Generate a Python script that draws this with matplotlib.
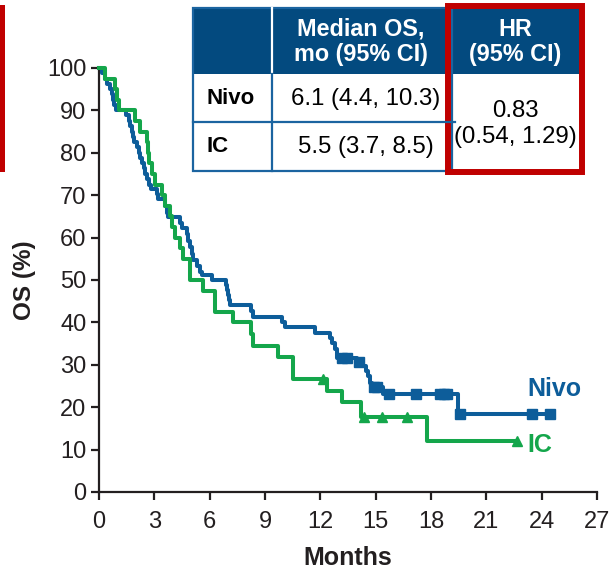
import matplotlib
matplotlib.use("Agg")
import matplotlib.pyplot as plt
import matplotlib.patches as mpatches
import numpy as np

# --- Kaplan-Meier data (months, OS %) ---
nivo_t = [0, 0.15, 0.33, 0.45, 0.6, 0.69, 0.78, 0.84, 0.9, 1.45, 1.6, 1.69, 1.78, 1.87,
          1.92, 2.05, 2.15, 2.24, 2.33, 2.42, 2.51, 2.6, 2.69, 2.8, 3.13, 3.22, 3.58,
          3.67, 3.76, 4.39, 4.48, 4.75, 4.84, 4.93, 5.03, 5.11, 5.3, 5.45, 5.57, 6.15,
          6.9, 6.95, 7.0, 7.05, 7.12, 8.25, 8.35, 9.9, 10.1, 11.71, 12.53, 12.62, 12.8,
          12.89, 13.97, 14.3, 14.5, 14.6, 14.7, 14.8, 15.42, 19.49]
nivo_s = [100, 98.8, 97.5, 96.3, 95.0, 93.8, 92.5, 91.3, 90.0, 88.8, 87.5, 86.3, 85.0, 83.8,
          82.5, 81.3, 80.0, 78.8, 77.5, 76.3, 75.0, 73.8, 72.5, 71.5, 70.3, 69.0, 67.5,
          65.8, 64.8, 63.5, 62.2, 60.8, 59.3, 57.7, 56.2, 54.6, 53.2, 52.0, 51.2, 50.0,
          48.8, 47.6, 46.4, 45.2, 44.1, 42.8, 41.3, 40.2, 38.8, 37.5, 36.3, 35.1, 33.8,
          31.6, 30.7, 29.6, 28.6, 27.3, 25.8, 24.8, 23.2, 18.5]
nivo_end = 24.5
nivo_cens = [13.2, 13.45, 14.1, 14.9, 15.06, 15.7, 17.2, 18.5, 18.7, 18.85, 19.55, 23.47, 24.46]

ic_t = [0, 0.35, 0.87, 0.95, 1.1, 1.95, 2.2, 2.6, 2.65, 2.72, 2.85, 3.05, 3.4, 3.58, 3.85,
        3.94, 4.12, 4.39, 4.57, 4.93, 5.64, 6.3, 7.25, 8.25, 8.35, 9.7, 10.5, 12.35,
        13.2, 14.2, 17.8]
ic_s = [100, 97.5, 95.0, 92.5, 90.0, 87.5, 85.0, 82.5, 80.0, 77.5, 75.0, 72.5, 70.0, 67.5,
        65.0, 62.5, 60.0, 57.5, 55.0, 50.0, 47.5, 42.5, 40.0, 37.2, 34.5, 31.8, 26.7,
        23.8, 21.2, 17.8, 12.0]
ic_end = 22.65
ic_cens = [12.15, 14.35, 15.33, 16.69, 22.65]

x_ticks = [0, 3, 6, 9, 12, 15, 18, 21, 24, 27]
y_ticks = [0, 10, 20, 30, 40, 50, 60, 70, 80, 90, 100]

# Summary table text
tbl_header = ["Median OS,\nmo (95% CI)", "HR\n(95% CI)"]
tbl_arms = ["Nivo", "IC"]
tbl_median = ["6.1 (4.4, 10.3)", "5.5 (3.7, 8.5)"]
tbl_hr = "0.83\n(0.54, 1.29)"

NIVO_BLUE = "#0d5d9a"
IC_GREEN = "#14a64b"
HEAD_BLUE = "#034a7f"
LINE_BLUE = "#1b64a0"
RED = "#c00000"
TXT = "#231f20"

plt.rcParams["font.family"] = ["Liberation Sans", "DejaVu Sans"]

fig = plt.figure(figsize=(6.11, 5.73), dpi=100)
W, H = 611, 573
ax = fig.add_axes([99 / W, 1 - 492 / H, 498 / W, 424 / H])


def surv_at(times, surv, t):
    idx = np.searchsorted(times, t, side="right") - 1
    return np.asarray(surv)[idx]


for t, s, end, cens, col, mk in [
    (nivo_t, nivo_s, nivo_end, nivo_cens, NIVO_BLUE, "s"),
    (ic_t, ic_s, ic_end, ic_cens, IC_GREEN, "^"),
]:
    tt = list(t) + [end]
    ss = list(s) + [s[-1]]
    ax.step(tt, ss, where="post", color=col, lw=2.9, clip_on=False, zorder=3)
    ax.plot(cens, surv_at(t, s, cens), ls="none", marker=mk, color=col,
            ms=6.5, clip_on=False, zorder=4)

ax.text(23.2, 24.3, "Nivo", color=NIVO_BLUE, fontsize=18, fontweight="bold",
        ha="left", va="center")
ax.text(23.2, 11.0, "IC", color=IC_GREEN, fontsize=18, fontweight="bold",
        ha="left", va="center")

ax.set_xlim(0, 27)
ax.set_ylim(0, 100)
ax.set_xticks(x_ticks)
ax.set_yticks(y_ticks)
for sp in ["top", "right"]:
    ax.spines[sp].set_visible(False)
for sp in ["left", "bottom"]:
    ax.spines[sp].set_linewidth(1.6)
    ax.spines[sp].set_color(TXT)
ax.tick_params(axis="both", labelsize=17, length=6, width=1.6, color=TXT,
               labelcolor=TXT, direction="out")
ax.tick_params(axis="x", pad=8)
ax.tick_params(axis="y", pad=3)
ax.set_xlabel("Months", fontsize=18, fontweight="bold", color=TXT, labelpad=9)
ax.set_ylabel("OS (%)", fontsize=17.5, fontweight="bold", color=TXT, labelpad=8)

# --- overlay in pixel coordinates for the table and the red highlight bars ---
ov = fig.add_axes([0, 0, 1, 1], zorder=5)
ov.set_xlim(0, W)
ov.set_ylim(H, 0)
ov.axis("off")

ov.add_patch(mpatches.Rectangle((0, 5), 5, 167, color=RED, lw=0))

ov.add_patch(mpatches.Rectangle((193, 8), 389, 66, facecolor=HEAD_BLUE, lw=0))
ov.add_patch(mpatches.Rectangle((193, 74), 255, 97, facecolor="white", lw=0))
ov.add_patch(mpatches.Rectangle((193, 8), 259, 163, facecolor="none",
                                edgecolor=LINE_BLUE, lw=1.6))
ov.plot([272, 272], [8, 74], color="white", lw=1.6)
ov.plot([272, 272], [74, 171], color=LINE_BLUE, lw=1.6)
ov.plot([193, 455], [122, 122], color=LINE_BLUE, lw=1.6)
ov.add_patch(mpatches.Rectangle((448, 6), 134, 166, facecolor="none",
                                edgecolor=RED, lw=4.3))

ov.text(361, 42, tbl_header[0], color="white", fontsize=16.8, fontweight="bold",
        ha="center", va="center", linespacing=1.15)
ov.text(515, 42, tbl_header[1], color="white", fontsize=16.8, fontweight="bold",
        ha="center", va="center", linespacing=1.15)
for i, y in enumerate([99, 147]):
    ov.text(206, y, tbl_arms[i], color="black", fontsize=16, fontweight="bold",
            ha="left", va="center")
    ov.text(366, y, tbl_median[i], color="black", fontsize=17.3,
            ha="center", va="center")
ov.text(515, 124, tbl_hr, color="black", fontsize=17.3, ha="center", va="center",
        linespacing=1.2)

fig.savefig("out.png", dpi=100)
